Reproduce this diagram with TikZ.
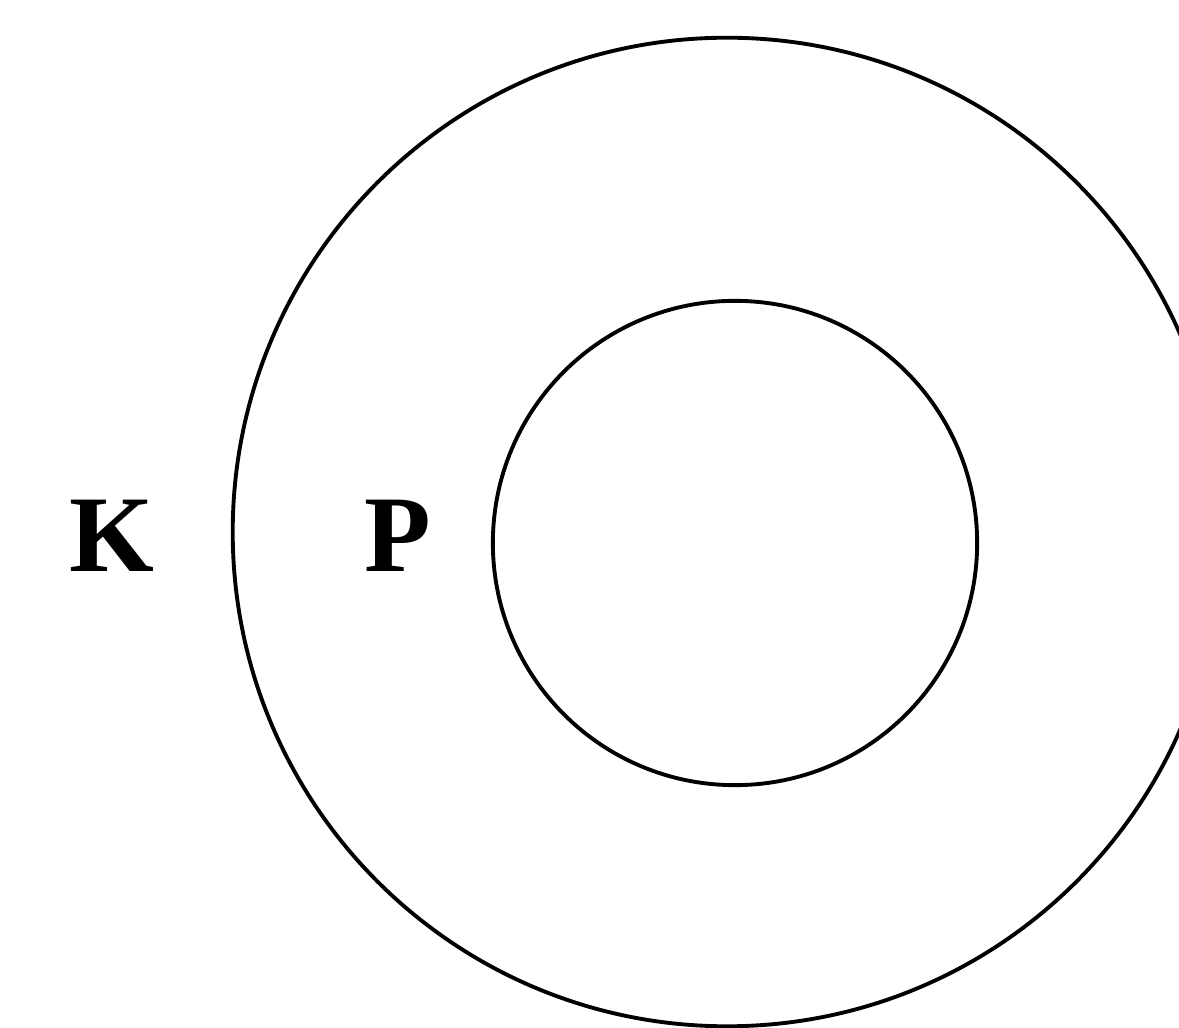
\documentclass[tikz,border=0pt]{standalone}
\usepackage{fontspec}
\setmainfont{Liberation Serif}
\usepackage{tikz}
\usetikzlibrary{positioning}
\tikzset{
  ring/.style={draw,line width=1.1pt,circle,inner sep=0pt},
  letter/.style={font=\bfseries\fontsize{31}{32}\selectfont,inner sep=0pt}
}
\begin{document}
\begin{tikzpicture}[x=0.01cm,y=-0.01cm]
  \useasboundingbox (0,0) rectangle (1179,1028);
  \node[ring,minimum size=9.88cm] (outer) at (727,532) {};
  \node[ring,minimum size=4.84cm] (inner) at (735,543) {};
  \node[letter] (K) at (112,536) {K};
  \node[letter] (P) at (398,536) {P};
\end{tikzpicture}
\end{document}
